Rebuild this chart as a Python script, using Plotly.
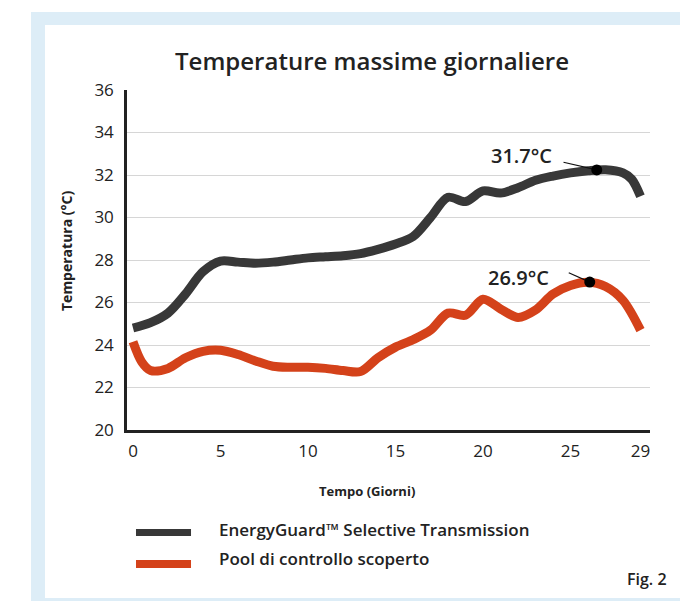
import plotly.graph_objects as go

# ---------------- data ----------------
days_black = [0, 1, 2, 3, 4, 5, 6, 7, 8, 9, 10, 11, 12, 13, 14, 15, 16, 17, 18, 19,
              20, 21, 22, 23, 24, 25, 26, 27, 28, 28.5, 29]
temps_black = [24.8, 25.05, 25.5, 26.4, 27.45, 27.95, 27.9, 27.85, 27.9, 28.0, 28.1, 28.15,
               28.2, 28.3, 28.5, 28.75, 29.1, 30.0, 30.95, 30.75, 31.25, 31.15, 31.4, 31.75,
               31.95, 32.1, 32.2, 32.25, 32.1, 31.8, 31.0]

days_red = [0, 0.5, 1, 2, 3, 4, 5, 6, 7, 8, 9, 10, 11, 12, 13, 14, 15, 16, 17, 18, 19,
            20, 21, 22, 23, 24, 25, 26, 27, 28, 29]
temps_red = [24.15, 23.2, 22.8, 22.9, 23.4, 23.7, 23.75, 23.55, 23.25, 23.0, 22.95, 22.95,
             22.9, 22.8, 22.75, 23.4, 23.9, 24.25, 24.7, 25.5, 25.4, 26.15, 25.7, 25.3,
             25.65, 26.4, 26.8, 26.95, 26.75, 26.1, 24.7]

series_names = ["EnergyGuard™ Selective Transmission", "Pool di controllo scoperto"]
series_colors = ["#383838", "#d4421a"]

x_tickvals = [0, 5, 10, 15, 20, 25, 29]
y_tickvals = [20, 22, 24, 26, 28, 30, 32, 34, 36]

# callouts
ann_labels = ["31.7°C", "26.9°C"]
ann_days = [26.5, 26.1]
ann_values = [32.24, 26.96]
leader_days = [24.6, 24.9]
leader_values = [32.6, 27.4]
label_days = [22.2, 22.05]
label_values = [32.94, 27.2]

FONT = "Open Sans"
DARK = "#222222"
FRAME = "#ddedf7"

fig = go.Figure()

fig.add_trace(go.Scatter(x=days_black, y=temps_black, mode="lines", name=series_names[0],
                         line=dict(color=series_colors[0], width=9, shape="spline", smoothing=0.9),
                         hoverinfo="x+y"))
fig.add_trace(go.Scatter(x=days_red, y=temps_red, mode="lines", name=series_names[1],
                         line=dict(color=series_colors[1], width=9, shape="spline", smoothing=0.9),
                         hoverinfo="x+y"))

# leader lines
for i in range(len(ann_labels)):
    fig.add_trace(go.Scatter(x=[leader_days[i], ann_days[i]], y=[leader_values[i], ann_values[i]],
                             mode="lines", line=dict(color="#111111", width=1.2),
                             showlegend=False, hoverinfo="skip"))
# dots
fig.add_trace(go.Scatter(x=ann_days, y=ann_values, mode="markers",
                         marker=dict(color="#000000", size=11), showlegend=False,
                         hoverinfo="skip"))

annotations = []
for i in range(len(ann_labels)):
    annotations.append(dict(x=label_days[i], y=label_values[i], xref="x", yref="y",
                            text=ann_labels[i], showarrow=False,
                            font=dict(family=FONT, size=20, color=DARK, weight=600),
                            xanchor="center", yanchor="middle"))

# axis titles as annotations
annotations.append(dict(x=-0.1147, y=0.5265, xref="paper", yref="paper",
                        text="Temperatura (°C)", textangle=-90, showarrow=False,
                        font=dict(family=FONT, size=14, color=DARK, weight=700),
                        xanchor="center", yanchor="middle"))
annotations.append(dict(x=0.4589, y=-0.1794, xref="paper", yref="paper",
                        text="Tempo (Giorni)", showarrow=False,
                        font=dict(family=FONT, size=13, color=DARK, weight=700),
                        xanchor="center", yanchor="middle"))
# legend texts
legend_y = [-0.2912, -0.3794]
for i in range(2):
    annotations.append(dict(x=0.172, y=legend_y[i], xref="paper", yref="paper",
                            text=series_names[i], showarrow=False,
                            font=dict(family=FONT, size=17, color=DARK, weight=600),
                            xanchor="left", yanchor="middle"))
annotations.append(dict(x=1.0363, y=-0.4382, xref="paper", yref="paper",
                        text="Fig. 2", showarrow=False,
                        font=dict(family=FONT, size=16, color=DARK, weight=600),
                        xanchor="right", yanchor="middle"))

shapes = [
    # light-blue frame
    dict(type="rect", xref="paper", yref="paper", x0=-0.1836, x1=1.06, y0=-0.503, y1=1.2294,
         fillcolor=FRAME, line=dict(width=0), layer="below"),
    dict(type="rect", xref="paper", yref="paper", x0=-0.1568, x1=1.06, y0=-0.4941, y1=1.1912,
         fillcolor="white", line=dict(width=0), layer="below"),
]
swatch_y = [-0.3015, -0.394]
swatch_w = [7, 8]
for i in range(2):
    shapes.append(dict(type="line", xref="paper", yref="paper", x0=0.0172, x1=0.1224,
                       y0=swatch_y[i], y1=swatch_y[i],
                       line=dict(color=series_colors[i], width=swatch_w[i])))

fig.update_layout(
    width=680, height=601,
    margin=dict(l=127, r=30, t=90, b=171),
    paper_bgcolor="white",
    plot_bgcolor="rgba(0,0,0,0)",
    showlegend=False,
    font=dict(family=FONT, color=DARK),
    title=dict(text="Temperature massime giornaliere", x=0.4685, xref="paper", xanchor="center",
               y=(601 - 62) / 601, yref="container", yanchor="middle",
               font=dict(family=FONT, size=24, color=DARK, weight=600)),
    xaxis=dict(range=[-0.343, 29.543], tickvals=x_tickvals, showgrid=False, zeroline=False,
               showline=True, linecolor="#222222", linewidth=2.5, ticks="",
               tickfont=dict(family=FONT, size=17, color=DARK), ticklabelstandoff=4),
    yaxis=dict(range=[20, 36], tickvals=y_tickvals, showgrid=True, gridcolor="#d6d6d6",
               gridwidth=1, zeroline=False, showline=True, linecolor="#222222", linewidth=2.5,
               ticks="", tickfont=dict(family=FONT, size=17, color=DARK), ticklabelstandoff=7),
    annotations=annotations,
    shapes=shapes,
)

fig.write_html("out.html", config={"displayModeBar": False})

# remove the browser's default page margin so the figure sits at the window origin
with open("out.html", "r", encoding="utf-8") as f:
    html = f.read()
html = html.replace("<head>", "<head><style>html,body{margin:0;padding:0;overflow:hidden;}</style>", 1)
with open("out.html", "w", encoding="utf-8") as f:
    f.write(html)
